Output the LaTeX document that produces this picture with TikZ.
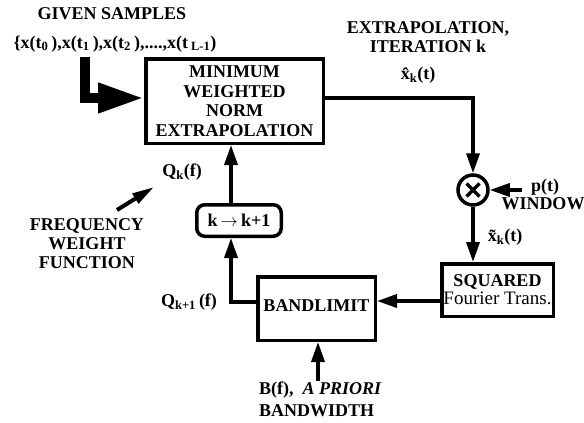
\documentclass[tikz,border=0pt]{standalone}
\usepackage{fontspec}
\setmainfont{Liberation Serif}
\usetikzlibrary{arrows.meta}

\begin{document}
\begin{tikzpicture}[x=1pt,y=-1pt,
  every node/.style={font=\fontsize{18}{19.5}\selectfont\bfseries, inner sep=0pt},
  block/.style={draw, line width=3.5pt, align=center},
  conn/.style={line width=3.5pt, -{Triangle[length=20pt,width=13pt]}},
  bigconn/.style={line width=10pt, line join=miter, -{Triangle[length=46pt,width=28pt]}},
  lbl/.style={align=center}]
\useasboundingbox (0,0) rectangle (584,423);

% blocks
\node[block, minimum width=177.5pt, minimum height=84.5pt] (main) at (234.5,101)
  {MINIMUM\\WEIGHTED\\NORM\\EXTRAPOLATION};
\node[block, circle, minimum size=30pt] (mul) at (473,190) {};
\draw[line width=3.5pt] ([shift={(-6.5pt,-6.5pt)}]mul.center) -- ([shift={(6.5pt,6.5pt)}]mul.center)
                        ([shift={(-6.5pt,6.5pt)}]mul.center) -- ([shift={(6.5pt,-6.5pt)}]mul.center);
\node[block, minimum width=111.5pt, minimum height=52.5pt] (sq) at (497.5,290)
  {SQUARED\\[-1.5pt]{\fontsize{19}{18}\selectfont\mdseries Fourier Trans.}};
\node[block, minimum width=117.5pt, minimum height=63.5pt] (band) at (316.5,308.5)
  {\raisebox{6pt}{BANDLIMIT}};
\node[block, rounded corners=8pt, minimum width=84.5pt, minimum height=31.5pt] (kbox) at (239,220.5)
  {k\,$\rightarrow$\,k+1};

% labels
\node[lbl] (given) at (112,14) {GIVEN SAMPLES};
\node[lbl] (samples) at (115,44)
  {\{x(t\textsubscript{0}\,),x(t\textsubscript{1}\,),x(t\textsubscript{2}\,),....,x(t\,\textsubscript{L-1})};
\node[lbl] (extrap) at (428,37) {EXTRAPOLATION,\\ITERATION k};
\node[lbl] (xhat) at (418,75) {\^{x}\textsubscript{k}(t)};
\node[lbl] (pt) at (545,187) {p(t)};
\node[lbl] (window) at (543,204) {WINDOW};
\node[lbl] (xtil) at (505,237) {\~{x}\textsubscript{k}(t)};
\node[lbl] (qk) at (182,172) {Q\textsubscript{k}(f)};
\node[lbl, font=\fontsize{18}{19}\selectfont\bfseries] (freq) at (87,244) {FREQUENCY\\WEIGHT\\FUNCTION};
\node[lbl] (qk1) at (189,302) {Q\textsubscript{k+1}\,(f)};
\node[anchor=west] (bf) at (259,390) {B(f), \ \textit{A PRIORI}};
\node[anchor=west] (bw) at (259,411) {BANDWIDTH};

% connector end points
\coordinate (sin) at (85,57);
\coordinate (pin) at (522,190);
\coordinate (bin) at (318,381);
\coordinate (fwtail) at (117,210);
\coordinate (fwhead) at (154,187);
\coordinate (fb) at ([yshift=-11pt]sq.west);

% connectors
\draw[bigconn] (sin) |- ([yshift=3pt]main.west);
\draw[conn] ([yshift=3pt]main.east) -| (mul.north);
\draw[conn] (pin) -- (mul.east);
\draw[conn] (mul.south) -- (mul.south |- sq.north);
\draw[conn] (fb) -- (fb -| band.east);
\draw[conn] ([yshift=6.5pt]band.west) -| ([xshift=-8pt]kbox.south);
\draw[conn] ([xshift=-8pt]kbox.north) -- ([xshift=-8pt]kbox.north |- main.south);
\draw[conn] (bin) -- (bin |- band.south);
\draw[line width=4pt, -{Triangle[length=22pt,width=11pt]}] (fwtail) -- (fwhead);
\end{tikzpicture}
\end{document}
